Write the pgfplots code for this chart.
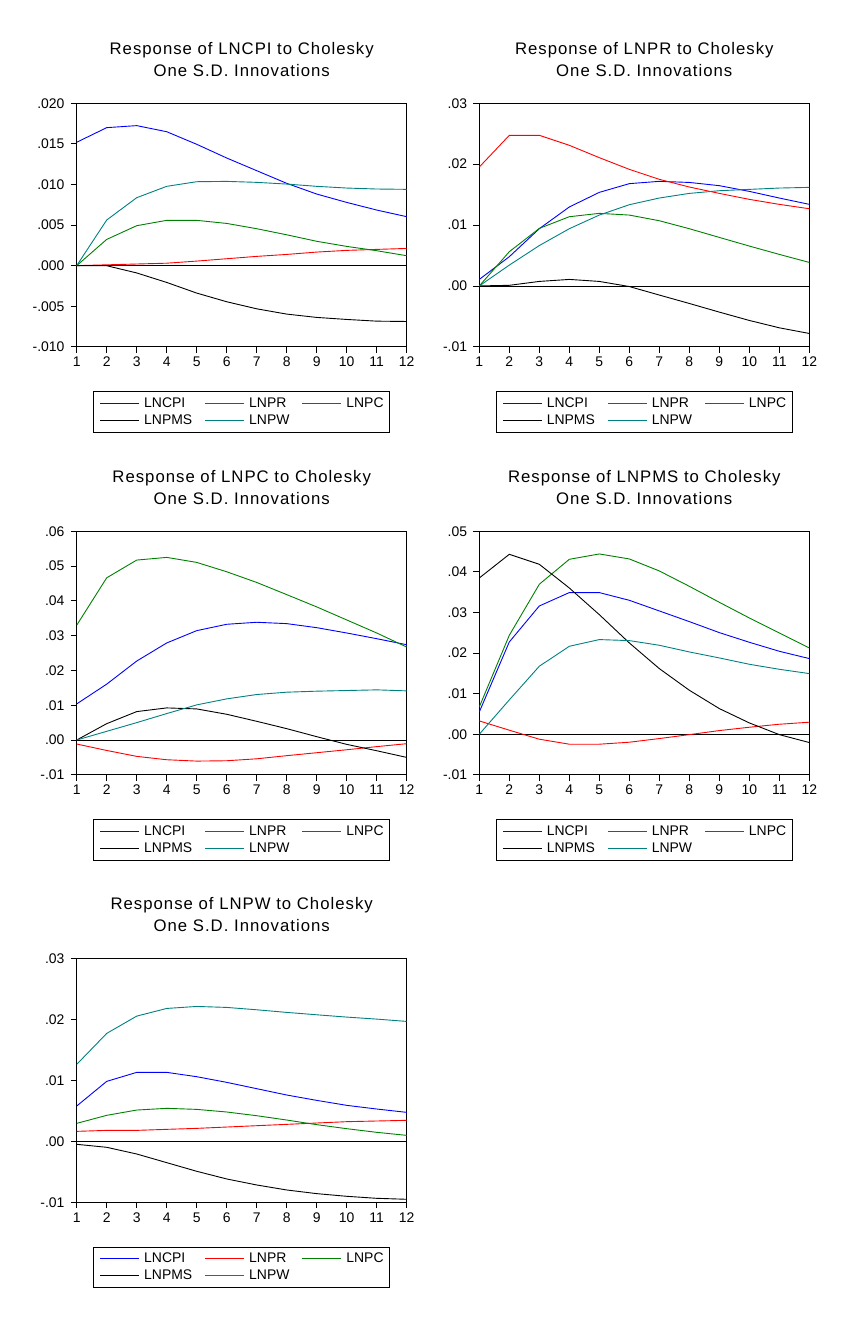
\documentclass[border=0pt]{standalone}
\usepackage{fontspec}
\setmainfont{Liberation Sans}
\newfontfamily\titlefont[LetterSpace=6.0]{Liberation Sans}
\usepackage{pgfplots}
\pgfplotsset{compat=1.18}
\definecolor{ebBlue}{RGB}{0,0,255}
\definecolor{ebRed}{RGB}{255,0,0}
\definecolor{ebGreen}{RGB}{0,128,0}
\definecolor{ebTeal}{RGB}{0,128,128}

\pgfplotstableread{
x cpi pr pc pms pw
1  0.0152  0.0000 0.0000  0.0000  0.0000
2  0.0170  0.0001 0.00323 -0.00001 0.00562
3  0.01725 0.0002 0.00492 -0.0009  0.00837
4  0.0165  0.0003 0.00558 -0.00207 0.00977
5  0.01495 0.00056 0.00558 -0.00338 0.01034
6  0.01326 0.00085 0.0052 -0.00445 0.01038
7  0.0117  0.00114 0.00455 -0.00532 0.01026
8  0.01014 0.00138 0.0038 -0.00597 0.01005
9  0.00882 0.00167 0.0030 -0.00638 0.00977
10 0.00779 0.00188 0.00237 -0.00663 0.00956
11 0.00685 0.0020 0.00184 -0.00684 0.00944
12 0.00603 0.00212 0.00122 -0.00688 0.0094
}\tabA
\pgfplotstableread{
x cpi pr pc pms pw
1  0.00107 0.01953 0.0000  0.0000   0.0000
2  0.0048  0.02474 0.00562 0.0001   0.00342
3  0.0094  0.02474 0.00945 0.00074  0.00663
4  0.01297 0.0231  0.01137 0.00107  0.0094
5  0.01537 0.02107 0.01192 0.00074  0.01164
6  0.0168  0.01915 0.01164 -0.0001  0.01334
7  0.01718 0.01751 0.01071 -0.0015  0.01444
8  0.0170  0.01625 0.0094  -0.00288 0.0152
9  0.01647 0.0152  0.00797 -0.0043  0.01564
10 0.01553 0.01422 0.00655 -0.00567 0.01586
11 0.01444 0.0134  0.00518 -0.00688 0.01608
12 0.0134  0.01268 0.00386 -0.00781 0.01619
}\tabB
\pgfplotstableread{
x cpi pr pc pms pw
1  0.01038 -0.00115 0.0330  0.0000   0.0000
2  0.01606 -0.0030  0.04663 0.0047   0.0025
3  0.0227  -0.0047  0.05173 0.00817  0.0050
4  0.0279  -0.00567 0.0525  0.00923  0.0076
5  0.03144 -0.00606 0.05106 0.00894  0.0101
6  0.03327 -0.00596 0.04837 0.0074   0.01183
7  0.03385 -0.0054  0.0453  0.00538  0.01308
8  0.03346 -0.0045  0.0418  0.00327  0.01375
9  0.0323  -0.00365 0.03827 0.00096  0.01404
10 0.03077 -0.0028  0.03452 -0.00125 0.01423
11 0.02913 -0.0019  0.03077 -0.00308 0.01442
12 0.0274  -0.00106 0.02673 -0.0050  0.01413
}\tabC
\pgfplotstableread{
x cpi pr pc pms pw
1  0.0055  0.00328  0.00673 0.0385  0.0000
2  0.02274 0.00099  0.02438 0.04433 0.00846
3  0.0316  -0.00123 0.03695 0.04187 0.01675
4  0.0349  -0.00246 0.0431  0.03604 0.02167
5  0.0349  -0.00246 0.04442 0.02947 0.02332
6  0.0330  -0.00197 0.04319 0.0225  0.02307
7  0.03038 -0.00107 0.04023 0.01617 0.02192
8  0.02775 -0.0001  0.03645 0.01084 0.02028
9  0.02504 0.0009   0.03251 0.00632 0.0188
10 0.02266 0.00172  0.02865 0.00279 0.01724
11 0.02044 0.00246  0.02496 -0.0001 0.0160
12 0.01864 0.00296  0.02126 -0.00205 0.01494
}\tabD
\pgfplotstableread{
x cpi pr pc pms pw
1  0.0058  0.00164 0.00295 -0.00049 0.01264
2  0.00985 0.0018  0.00427 -0.00098 0.01773
3  0.01133 0.0018  0.00514 -0.00208 0.02057
4  0.01133 0.00197 0.00542 -0.0035  0.02183
5  0.01062 0.00213 0.00525 -0.00492 0.02216
6  0.00969 0.00235 0.00482 -0.00618 0.0220
7  0.00865 0.00257 0.00421 -0.00717 0.02161
8  0.00761 0.00279 0.0035  -0.00799 0.02118
9  0.00673 0.00301 0.00274 -0.00859 0.02079
10 0.00591 0.00323 0.00208 -0.00903 0.02041
11 0.00531 0.00334 0.00148 -0.00936 0.02008
12 0.00476 0.00345 0.00098 -0.00952 0.0197
}\tabE

\pgfplotsset{
  irf/.style={
    scale only axis, width=330bp, height=243.5bp, anchor=north west,
    xmin=1, xmax=12, xtick={1,...,12},
    scaled y ticks=false,
    tick align=outside, xtick pos=bottom, ytick pos=left,
    major tick length=6bp,
    tick style={black, line width=0.8bp},
    axis line style={line width=0.8bp},
    every axis plot/.append style={line width=0.9bp},
    tick label style={font=\fontsize{14}{16}\selectfont, inner sep=0pt},
    xticklabel style={yshift=-4bp},
    yticklabel style={xshift=-6bp},
    /pgf/number format/assume math mode=true,
    title style={font=\titlefont\fontsize{16.8}{22.3}\selectfont, align=center,
      at={(0.5,1)}, anchor=south, inner sep=0pt, yshift=20.6bp},
    legend columns=3,
    legend cell align=left,
    legend style={at={(0.5,0)}, anchor=north, yshift=-44.3bp, draw=black,
      line width=0.8bp, font=\fontsize{14}{16}\selectfont,
      inner xsep=6bp, inner ysep=6bp, row sep=4.7bp, column sep=0pt,
      nodes={inner sep=0pt, text height=10bp, text depth=2bp},
      /tikz/every even column/.append style={column sep=12.5bp}},
    legend image code/.code={\draw[#1] (0bp,0bp) -- (39bp,0bp); \path (43.5bp,0bp);},
  }
}

\newcommand{\irfseries}[1]{%
  \addplot[black, line width=0.8bp, forget plot] coordinates {(1,0) (12,0)};
  \addplot[ebBlue] table[x=x,y=cpi] {#1};
  \addplot[ebRed] table[x=x,y=pr] {#1};
  \addplot[ebGreen] table[x=x,y=pc] {#1};
  \addplot[black] table[x=x,y=pms] {#1};
  \addplot[ebTeal] table[x=x,y=pw] {#1};
  \legend{LNCPI,LNPR,LNPC,LNPMS,LNPW}
}

\begin{document}
\begin{tikzpicture}
\path (0,0) rectangle (851bp,-1327bp);

\begin{axis}[irf, at={(76.7bp,-103.3bp)},
  ymin=-0.01, ymax=0.02,
  ytick={-0.01,-0.005,0,0.005,0.01,0.015,0.02},
  yticklabels={-.010,-.005,.000,.005,.010,.015,.020},
  title={Response of LNCPI to Cholesky\\One S.D. Innovations}]
\irfseries{\tabA}
\end{axis}

\begin{axis}[irf, at={(479.3bp,-103.3bp)},
  ymin=-0.01, ymax=0.03,
  ytick={-0.01,0,0.01,0.02,0.03},
  yticklabels={-.01,.00,.01,.02,.03},
  title={Response of LNPR to Cholesky\\One S.D. Innovations}]
\irfseries{\tabB}
\end{axis}

\begin{axis}[irf, at={(76.7bp,-531.3bp)},
  ymin=-0.01, ymax=0.06,
  ytick={-0.01,0,0.01,0.02,0.03,0.04,0.05,0.06},
  yticklabels={-.01,.00,.01,.02,.03,.04,.05,.06},
  title={Response of LNPC to Cholesky\\One S.D. Innovations}]
\irfseries{\tabC}
\end{axis}

\begin{axis}[irf, at={(479.3bp,-531.3bp)},
  ymin=-0.01, ymax=0.05,
  ytick={-0.01,0,0.01,0.02,0.03,0.04,0.05},
  yticklabels={-.01,.00,.01,.02,.03,.04,.05},
  title={Response of LNPMS to Cholesky\\One S.D. Innovations}]
\irfseries{\tabD}
\end{axis}

\begin{axis}[irf, at={(76.7bp,-958.7bp)},
  ymin=-0.01, ymax=0.03,
  ytick={-0.01,0,0.01,0.02,0.03},
  yticklabels={-.01,.00,.01,.02,.03},
  title={Response of LNPW to Cholesky\\One S.D. Innovations}]
\irfseries{\tabE}
\end{axis}
\end{tikzpicture}
\end{document}
